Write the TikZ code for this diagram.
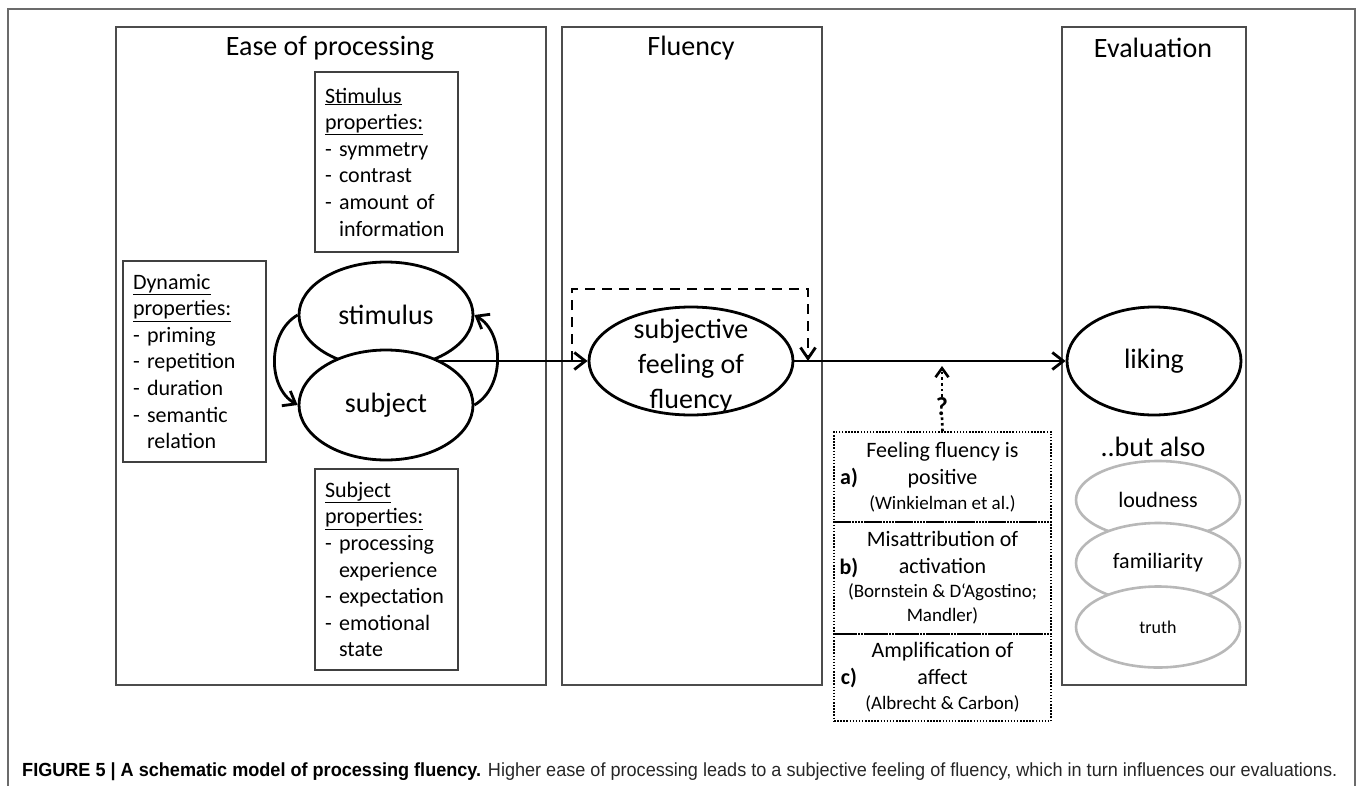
\documentclass[tikz,border=0pt]{standalone}
\usepackage{fontspec}
\setmainfont{Carlito}
\newfontfamily\capfont{Liberation Sans}
\usepackage{graphicx}
\usetikzlibrary{arrows.meta, shapes.geometric, calc}

\tikzset{
  panel/.style={draw=black!70, line width=1.3pt},
  proplist/.style={draw=black!75, line width=1.3pt, align=left, text width=123pt, inner xsep=10pt, font=\fontsize{22}{26.6}\selectfont},
  oval/.style={ellipse, draw, line width=2.8pt, fill=white, inner sep=0pt},
  grayoval/.style={ellipse, draw=black!28, line width=2.6pt, fill=white, inner sep=0pt},
  heading/.style={font=\fontsize{28}{34}\selectfont},
  route/.style={draw, line width=1.6pt, dash pattern=on 1.5pt off 1.6pt, minimum width=217pt, align=center, inner sep=0pt, font=\fontsize{22}{27}\selectfont},
  tag/.style={font=\bfseries\fontsize{22}{26}\selectfont},
  flow/.style={line width=2.8pt, -{Straight Barb[length=11pt,width=17pt]}},
  loopback/.style={line width=2.8pt, dash pattern=on 10pt off 7pt, -{Straight Barb[length=11pt,width=15pt]}},
  query/.style={line width=2.6pt, dash pattern=on 2.6pt off 3pt, -{Straight Barb[length=9pt,width=13pt]}}
}

\newcommand{\refsmall}[1]{{\fontsize{19}{24}\selectfont #1}}

\begin{document}
\begin{tikzpicture}[x=1pt, y=-1pt]

%% page size of the reference
\useasboundingbox (0,0) rectangle (1358,785);

%% outer frame, open at the bottom
\draw[draw=black!58, line width=2pt] (8,795) -- (8,9) -- (1355,9) -- (1355,795);

%%Paramaters
%% row of the main arrows
\def\flowRow{361}
\def\headRow{48}

%% ***Panels***
\node[panel, minimum width=430pt, minimum height=658pt] at (331, 356) (ease) {};
\node[panel, minimum width=260pt, minimum height=658pt] at (692, 356) (fluency) {};
\node[panel, minimum width=184pt, minimum height=658pt] at (1154, 356) (evaluation) {};

\node[heading] at (330, \headRow) (easetitle) {Ease of processing};
\node[heading] at (691, \headRow) (fluencytitle) {Fluency};
\node[heading] at (1153, \headRow) (evaltitle) {Evaluation};

%% ***Ease of processing***
\node[proplist, minimum height=180pt] at (386.5, 162) (stimprops) {\underline{Stimulus}\\\underline{properties:}\\- symmetry\\- contrast\\- amount of\\\hphantom{- }information};
\node[proplist, minimum height=201pt] at (194.5, 361.5) (dynprops) {\underline{Dynamic}\\\underline{properties:}\\- priming\\- repetition\\- duration\\- semantic\\\hphantom{- }relation};
\node[proplist, minimum height=201pt] at (386.5, 569.5) (subjprops) {\underline{Subject}\\\underline{properties:}\\- processing\\\hphantom{- }experience\\- expectation\\- emotional\\\hphantom{- }state};

\node[oval, minimum width=174pt, minimum height=106pt, font=\fontsize{28}{34}\selectfont] at (386, 315) (stimulus) {stimulus};
\node[oval, minimum width=174pt, minimum height=110pt, font=\fontsize{28}{34}\selectfont] at (386, 405) (subject) {subject};

    \draw[flow] (stimulus.west) to[out=210, in=150] (subject.west);
    \draw[flow] (subject.east) to[out=30, in=-30] (stimulus.east);

%% ***Fluency***
\node[oval, minimum width=204pt, minimum height=108pt] at (691, \flowRow) (feeling) {};
\node[align=center, font=\fontsize{28}{35}\selectfont] at (691, 366) (feelingtext) {subjective\\feeling of\\fluency};

\coordinate (join) at (436, \flowRow);
\coordinate (loopin) at (572, \flowRow);
\coordinate (loopout) at (808, \flowRow);

    \draw[flow] (join) -- (feeling.west);
    \draw[loopback] (loopin) -- ++(0,-72) -| (loopout);

%% ***Evaluation***
\node[oval, minimum width=174pt, minimum height=108pt, font=\fontsize{28}{34}\selectfont] at (1154, \flowRow) (liking) {liking};

    \draw[flow] (feeling.east) -- (liking.west);

\node[heading] at (1153, 447) (alsotitle) {..but also};
\node[grayoval, minimum width=164pt, minimum height=78pt, font=\fontsize{22}{26}\selectfont] at (1158, 500) (loudness) {loudness};
\node[grayoval, minimum width=164pt, minimum height=80pt, font=\fontsize{22}{26}\selectfont] at (1158, 563) (familiarity) {familiarity};
\node[grayoval, minimum width=164pt, minimum height=81pt, font=\fontsize{18}{22}\selectfont] at (1158, 627) (truth) {truth};

%% ***Explanations a) b) c)***
\node[route, minimum height=90pt] at (942.5, 477) (seca) {Feeling fluency is\\positive\\[-2pt]\refsmall{(Winkielman et al.)}};
\node[route, minimum height=112pt] at (942.5, 578) (secb) {Misattribution of\\activation\\[-3pt]\refsmall{(Bornstein \& D‘Agostino;}\\[-3pt]\refsmall{Mandler)}};
\node[route, minimum height=87pt] at (942.5, 677.5) (secc) {Amplification of\\affect\\[-2pt]\refsmall{(Albrecht \& Carbon)}};

\node[tag] at (849, 478) (taga) {a)};
\node[tag] at (849, 568) (tagb) {b)};
\node[tag] at (849, 678) (tagc) {c)};

\node[font=\bfseries\fontsize{26}{30}\selectfont, inner sep=1pt] at (942, 407) (qmark) {?};
\coordinate (querytip) at (942, 366);

    \draw[line width=2.6pt, dash pattern=on 2.6pt off 3pt] (seca.north) -- (qmark.south);
    \draw[query] (qmark.north) -- (querytip);

%% caption
\node[anchor=west, inner sep=0pt, font=\capfont\fontsize{19}{23}\selectfont] at (22, 772) (caption) {\scalebox{0.952}[1]{\textbf{FIGURE 5 | A schematic model of processing fluency.} \textcolor{black!85}{Higher ease of processing leads to a subjective feeling of fluency, which in turn influences our evaluations.}}};

\end{tikzpicture}
\end{document}
